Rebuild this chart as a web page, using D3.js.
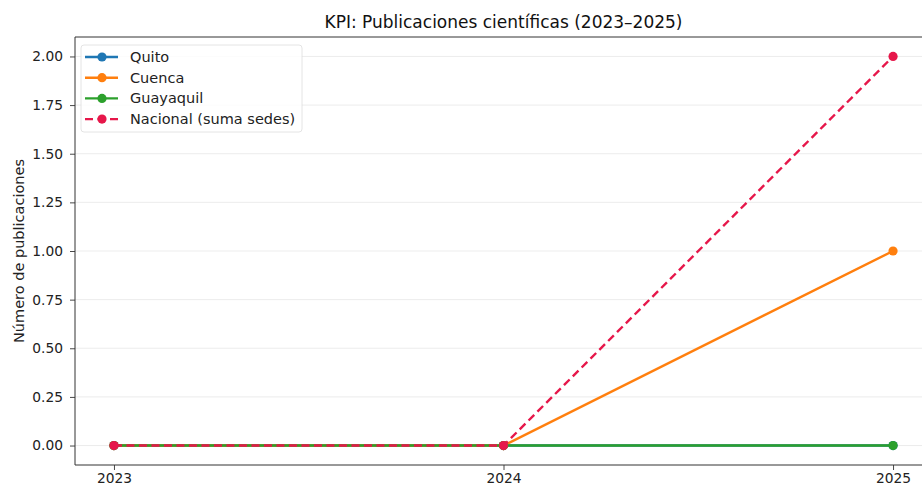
<!DOCTYPE html>
<html>
<head>
<meta charset="utf-8">
<script src="https://cdn.jsdelivr.net/npm/d3@7"></script>
<style>
  html, body { margin: 0; padding: 0; background: #fff; }
  svg { display: block; font-family: "DejaVu Sans", sans-serif; }
</style>
</head>
<body>
<svg id="chart" width="922" height="486"></svg>
<script>
// Scientific publications per campus, 2023–2025
const years = [2023, 2024, 2025];
const quito = [0, 0, 0];
const cuenca = [0, 0, 1];
const guayaquil = [0, 0, 0];
const nacional = [0, 0, 2];
const yTicks = [0, 0.25, 0.5, 0.75, 1, 1.25, 1.5, 1.75, 2];

const series = [
  { name: "Quito", values: quito, color: "#1f77b4", dash: null },
  { name: "Cuenca", values: cuenca, color: "#ff7f0e", dash: null },
  { name: "Guayaquil", values: guayaquil, color: "#2ca02c", dash: null },
  { name: "Nacional (suma sedes)", values: nacional, color: "#e6174a", dash: "8,4.5" }
];

const svg = d3.select("#chart");
const margin = { left: 75, top: 37, bottom: 465, right: 932 };

const x = d3.scaleLinear().domain([2022.9, 2025.1]).range([margin.left, margin.right]);
const y = d3.scaleLinear().domain([-0.1, 2.1]).range([margin.bottom, margin.top]);

// horizontal grid
svg.append("g")
  .selectAll("line")
  .data(yTicks)
  .join("line")
  .attr("x1", margin.left).attr("x2", margin.right)
  .attr("y1", d => y(d)).attr("y2", d => y(d))
  .attr("stroke", "#b0b0b0").attr("stroke-opacity", 0.3).attr("stroke-width", 0.8);

// axes
const xAxis = d3.axisBottom(x).tickValues(years).tickFormat(d3.format("d")).tickSize(5).tickPadding(3);
const yAxis = d3.axisLeft(y).tickValues(yTicks).tickFormat(d3.format(".2f")).tickSize(5).tickPadding(7);

const gx = svg.append("g").attr("transform", `translate(0,${margin.bottom})`).call(xAxis);
const gy = svg.append("g").attr("transform", `translate(${margin.left},0)`).call(yAxis);
[gx, gy].forEach(g => {
  g.selectAll("text").attr("font-family", "DejaVu Sans, sans-serif").attr("font-size", 13.8).attr("fill", "#222");
  g.selectAll("line").attr("stroke", "#333").attr("stroke-width", 0.9);
  g.select(".domain").remove();
});

// spines
svg.append("line").attr("x1", margin.left).attr("x2", margin.left)
  .attr("y1", margin.top).attr("y2", margin.bottom).attr("stroke", "#333").attr("stroke-width", 1);
svg.append("line").attr("x1", margin.left).attr("x2", margin.right)
  .attr("y1", margin.bottom).attr("y2", margin.bottom).attr("stroke", "#333").attr("stroke-width", 1);
svg.append("line").attr("x1", margin.left).attr("x2", margin.right)
  .attr("y1", margin.top).attr("y2", margin.top).attr("stroke", "#333").attr("stroke-width", 1);

// lines and markers
const line = d3.line().x((d, i) => x(years[i])).y(d => y(d));
series.forEach(s => {
  const g = svg.append("g");
  g.append("path")
    .attr("d", line(s.values))
    .attr("fill", "none")
    .attr("stroke", s.color)
    .attr("stroke-width", 2.4)
    .attr("stroke-dasharray", s.dash);
  g.selectAll("circle")
    .data(s.values)
    .join("circle")
    .attr("cx", (d, i) => x(years[i]))
    .attr("cy", d => y(d))
    .attr("r", 4.6)
    .attr("fill", s.color);
});

// title
svg.append("text")
  .attr("x", (margin.left + margin.right) / 2)
  .attr("y", 28)
  .attr("text-anchor", "middle")
  .attr("font-size", 17)
  .attr("fill", "#111")
  .text("KPI: Publicaciones científicas (2023–2025)");

// y label
svg.append("text")
  .attr("transform", `translate(24,${(margin.top + margin.bottom) / 2}) rotate(-90)`)
  .attr("text-anchor", "middle")
  .attr("font-size", 14.5)
  .attr("fill", "#222")
  .text("Número de publicaciones");

// legend
const lg = svg.append("g").attr("transform", "translate(81,45)");
lg.append("rect")
  .attr("width", 221).attr("height", 87).attr("rx", 3)
  .attr("fill", "#fff").attr("fill-opacity", 0.8)
  .attr("stroke", "#ddd").attr("stroke-width", 0.8);
series.forEach((s, i) => {
  const row = lg.append("g").attr("transform", `translate(0,${12 + i * 20.7})`);
  row.append("line").attr("x1", 4).attr("x2", 37).attr("y1", 0).attr("y2", 0)
    .attr("stroke", s.color).attr("stroke-width", 2.4).attr("stroke-dasharray", s.dash);
  row.append("circle").attr("cx", 21).attr("cy", 0).attr("r", 4.6).attr("fill", s.color);
  row.append("text").attr("x", 49).attr("y", 5)
    .attr("font-size", 14.5).attr("fill", "#222").text(s.name);
});
</script>
</body>
</html>
